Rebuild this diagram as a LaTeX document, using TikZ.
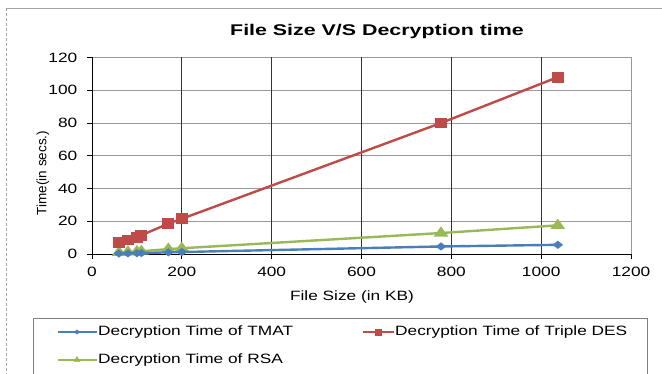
\documentclass[tikz,border=0pt]{standalone}
\usepackage{fontspec}
\setmainfont{Liberation Sans}
\newfontfamily\chartfont[FakeStretch=1.28]{Liberation Sans}
\newfontfamily\charttitlefont[FakeStretch=1.38]{Liberation Sans}
\usepackage{xcolor}
\usepackage{tikz}
\usetikzlibrary{plotmarks}

\definecolor{tmatblue}{HTML}{4A7EBB}
\definecolor{desred}{HTML}{BE4B48}
\definecolor{rsagreen}{HTML}{98B954}

\begin{document}
\begin{tikzpicture}[x=1pt, y=-1pt,
  ticklabel/.style={font=\chartfont\fontsize{13.5}{16}\selectfont, inner sep=1pt},
  legendtext/.style={font=\chartfont\fontsize{13.5}{16}\selectfont, anchor=west, inner sep=1pt},
  hgrid/.style={gray!80, line width=0.8pt},
  vgrid/.style={black!80, line width=0.8pt},
  tmatline/.style={tmatblue, line width=2.4pt, mark=diamond*, mark size=2.6pt, mark options={solid, xscale=1.7}},
  desline/.style={desred, line width=2.4pt, mark=square*, mark size=4.2pt, mark options={solid, xscale=1.15}},
  rsaline/.style={rsagreen, line width=2.4pt, mark=triangle*, mark size=4.6pt, mark options={solid, xscale=1.25}}]
\useasboundingbox (0,0) rectangle (662,374);
\clip (0,0) rectangle (662,374);
\fill[white] (0,0) rectangle (662,374);

% Chart frame
\draw[gray!70, line width=0.8pt] (6,8) -- (662,8);
\draw[gray!70, densely dashed] (6,8) -- (6,374);

% Title
\node[font=\charttitlefont\bfseries\fontsize{15.5}{18}\selectfont] (charttitle) at (377,31) {File Size V/S Decryption time};

% Plot area (data units)
\begin{scope}[shift={(92,254)}, x=0.44917pt, y=1.6375pt]
\draw[hgrid] (0,20) -- (1200,20);
\draw[hgrid] (0,40) -- (1200,40);
\draw[hgrid] (0,60) -- (1200,60);
\draw[hgrid] (0,80) -- (1200,80);
\draw[hgrid] (0,100) -- (1200,100);
\draw[hgrid] (0,120) -- (1200,120);
\draw[vgrid] (200,0) -- (200,120);
\draw[vgrid] (400,0) -- (400,120);
\draw[vgrid] (600,0) -- (600,120);
\draw[vgrid] (800,0) -- (800,120);
\draw[vgrid] (1000,0) -- (1000,120);
\draw[hgrid] (1200,0) -- (1200,120);
% axes and ticks
\draw[black, line width=0.8pt] (0,120) -- (0,0) -- (1200,0);
\draw[black, line width=0.8pt] (0,0) -- ++(-5pt,0) (0,20) -- ++(-5pt,0) (0,40) -- ++(-5pt,0)
  (0,60) -- ++(-5pt,0) (0,80) -- ++(-5pt,0) (0,100) -- ++(-5pt,0) (0,120) -- ++(-5pt,0);
\draw[black, line width=0.8pt] (0,0) -- ++(0,-5pt) (200,0) -- ++(0,-5pt) (400,0) -- ++(0,-5pt)
  (600,0) -- ++(0,-5pt) (800,0) -- ++(0,-5pt) (1000,0) -- ++(0,-5pt) (1200,0) -- ++(0,-5pt);
% tick labels
\node[ticklabel, anchor=east] (ylab0) at (-30,0) {0};
\node[ticklabel, anchor=east] (ylab20) at (-30,20) {20};
\node[ticklabel, anchor=east] (ylab40) at (-30,40) {40};
\node[ticklabel, anchor=east] (ylab60) at (-30,60) {60};
\node[ticklabel, anchor=east] (ylab80) at (-30,80) {80};
\node[ticklabel, anchor=east] (ylab100) at (-30,100) {100};
\node[ticklabel, anchor=east] (ylab120) at (-30,120) {120};
\node[ticklabel] (xlab0) at (0,-10.6) {0};
\node[ticklabel] (xlab200) at (200,-10.6) {200};
\node[ticklabel] (xlab400) at (400,-10.6) {400};
\node[ticklabel] (xlab600) at (600,-10.6) {600};
\node[ticklabel] (xlab800) at (800,-10.6) {800};
\node[ticklabel] (xlab1000) at (1000,-10.6) {1000};
\node[ticklabel] (xlab1200) at (1200,-10.6) {1200};
% series
\draw[rsaline] plot coordinates {(60,1) (80,1.3) (100,1.5) (110,1.7) (170,3) (200,3.5) (777,12.8) (1037,17.5)};
\draw[tmatline] plot coordinates {(60,0.3) (80,0.4) (100,0.5) (110,0.6) (170,1) (200,1.2) (777,4.6) (1037,5.6)};
\draw[desline] plot coordinates {(60,7) (80,8.5) (100,10) (110,11.5) (170,18.5) (200,21.5) (777,80) (1037,108)};
\end{scope}

% Axis titles
\node[font=\chartfont\fontsize{13.5}{16}\selectfont] (xtitle) at (352,297) {File Size (in KB)};
\node[font=\fontsize{13.5}{15}\selectfont, rotate=90] (ytitle) at (43,173) {Time(in secs.)};

% Legend box
\draw[gray, line width=0.8pt] (33,318) rectangle (647,392);
\node[legendtext] (tmatlabel) at (97,332) {Decryption Time of TMAT};
\node[legendtext] (deslabel) at (394,332) {Decryption Time of Triple DES};
\node[legendtext] (rsalabel) at (97,360) {Decryption Time of RSA};
\coordinate (tmatstart) at (58,332);
\coordinate (desstart) at (363,332);
\coordinate (rsastart) at (58,360);
\draw[tmatblue, line width=2pt] (tmatstart) -- (tmatlabel.west);
\draw[desred, line width=2pt] (desstart) -- (deslabel.west);
\draw[rsagreen, line width=2pt] (rsastart) -- (rsalabel.west);
\draw[tmatblue] plot[mark=diamond*, mark size=2.2pt, mark options={xscale=1.6}] coordinates {(77,332)};
\draw[desred] plot[mark=square*, mark size=3pt] coordinates {(378,332)};
\draw[rsagreen] plot[mark=triangle*, mark size=3.5pt] coordinates {(77,360)};
\end{tikzpicture}
\end{document}
